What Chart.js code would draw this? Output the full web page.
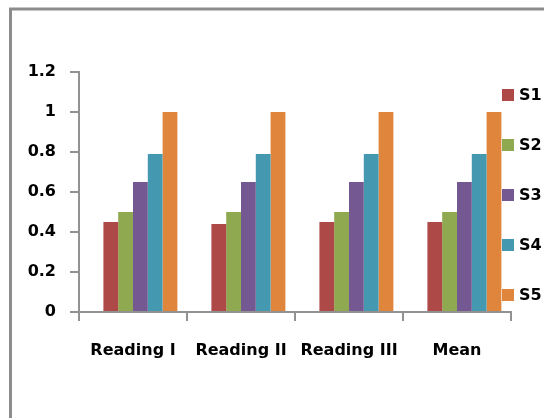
<!DOCTYPE html>
<html>
<head>
<meta charset="utf-8">
<script src="https://cdn.jsdelivr.net/npm/chart.js@4/dist/chart.umd.min.js"></script>
<style>
  html, body { margin: 0; padding: 0; background: #fff; }
  #wrap { width: 544px; height: 418px; position: relative; }
</style>
</head>
<body>
<div id="wrap"><canvas id="c" width="544" height="418"></canvas></div>
<script>
// Categories and series
const categories = ['Reading I', 'Reading II', 'Reading III', 'Mean'];
const seriesNames = ['S1', 'S2', 'S3', 'S4', 'S5'];
const s1 = [0.45, 0.44, 0.45, 0.45];
const s2 = [0.50, 0.50, 0.50, 0.50];
const s3 = [0.65, 0.65, 0.65, 0.65];
const s4 = [0.79, 0.79, 0.79, 0.79];
const s5 = [1.00, 1.00, 1.00, 1.00];
// empty leading series: keeps a blank slot at the left of every group
const blankSeries = [null, null, null, null];
const yTickLabels = ['0', '0.2', '0.4', '0.6', '0.8', '1', '1.2'];

const seriesColors = ['#ad4946', '#8ea94f', '#735891', '#4499b1', '#df853c'];
const seriesValues = [s1, s2, s3, s4, s5];

const FONT = { family: '"DejaVu Sans", sans-serif', size: 16, weight: 'bold' };
const AXIS_GREY = '#929292';

const datasets = [{ label: '', data: blankSeries, backgroundColor: 'rgba(0,0,0,0)' }]
  .concat(seriesNames.map((name, i) => ({
    label: name,
    data: seriesValues[i],
    backgroundColor: seriesColors[i],
    borderWidth: 0
  })));

// Outer frame of the chart object
const framePlugin = {
  id: 'frame',
  beforeDraw(chart) {
    const ctx = chart.ctx;
    ctx.save();
    ctx.fillStyle = '#fff';
    ctx.fillRect(0, 0, chart.width, chart.height);
    ctx.strokeStyle = '#8c8c8c';
    ctx.lineWidth = 3;
    ctx.strokeRect(10.5, 9, 800, 800);
    ctx.restore();
  }
};

// Legend drawn at the right edge, one key per named series
const sideLegend = {
  id: 'sideLegend',
  afterDraw(chart, args, opts) {
    const ctx = chart.ctx;
    ctx.save();
    ctx.font = `${FONT.weight} ${FONT.size}px ${FONT.family}`;
    ctx.textBaseline = 'middle';
    ctx.textAlign = 'left';
    let row = 0;
    chart.data.datasets.forEach(ds => {
      if (!ds.label) return;
      const cy = opts.top + row * opts.step;
      ctx.fillStyle = ds.backgroundColor;
      ctx.fillRect(opts.x, cy - opts.box / 2, opts.box, opts.box);
      ctx.fillStyle = '#000';
      ctx.fillText(ds.label, opts.x + opts.box + 5, cy + 1);
      row++;
    });
    ctx.restore();
  }
};

new Chart(document.getElementById('c'), {
  type: 'bar',
  data: { labels: categories, datasets },
  plugins: [framePlugin, sideLegend],
  options: {
    responsive: false,
    animation: false,
    devicePixelRatio: 1,
    datasets: { bar: { categoryPercentage: 0.822, barPercentage: 1.0 } },
    layout: { padding: { top: 72, right: 33, left: 0, bottom: 0 } },
    plugins: {
      legend: { display: false },
      tooltip: { enabled: false },
      sideLegend: { x: 502, top: 95, step: 50, box: 12 }
    },
    scales: {
      x: {
        grid: {
          offset: true,
          drawOnChartArea: false,
          drawTicks: true,
          tickLength: 9,
          color: AXIS_GREY,
          lineWidth: 2
        },
        border: { display: true, color: AXIS_GREY, width: 2 },
        ticks: { color: '#000', font: FONT, padding: 20, maxRotation: 0, autoSkip: false },
        afterFit(scale) { scale.height = 106; }
      },
      y: {
        min: 0,
        max: 1.2,
        ticks: {
          stepSize: 0.2,
          color: '#000',
          font: FONT,
          padding: 14,
          callback: (v, i) => yTickLabels[i]
        },
        grid: {
          drawOnChartArea: false,
          drawTicks: true,
          tickLength: 9,
          color: AXIS_GREY,
          lineWidth: 2
        },
        border: { display: true, color: AXIS_GREY, width: 2 },
        afterFit(scale) { scale.width = 79; }
      }
    }
  }
});
</script>
</body>
</html>
